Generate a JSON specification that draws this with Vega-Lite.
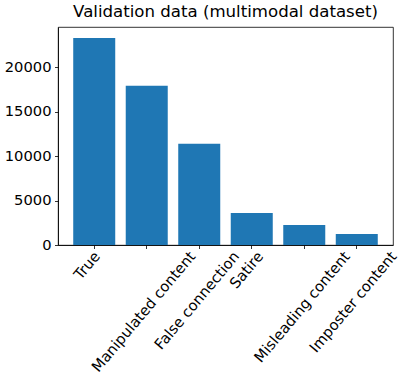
{
  "$schema": "https://vega.github.io/schema/vega-lite/v6.json",
  "autosize": {"type": "none"},
  "padding": {"left": 58, "top": 27, "right": 15, "bottom": 134},
  "width": 335,
  "height": 218,
  "background": "white",
  "title": {
    "text": "Validation data (multimodal dataset)",
    "font": "DejaVu Sans",
    "fontSize": 16.6,
    "fontWeight": "normal",
    "color": "black",
    "anchor": "middle",
    "offset": 6
  },
  "config": {
    "view": {"stroke": "black", "strokeWidth": 0.8},
    "axis": {
      "labelFont": "DejaVu Sans",
      "labelFontSize": 14.7,
      "labelColor": "black",
      "tickColor": "black",
      "tickSize": 3.5,
      "tickWidth": 0.8,
      "domainColor": "black",
      "domainWidth": 0.8,
      "grid": false,
      "title": null
    }
  },
  "data": {
    "values": [
      {"category": "True", "count": 23317},
      {"category": "Manipulated content", "count": 17936},
      {"category": "False connection", "count": 11393},
      {"category": "Satire", "count": 3610},
      {"category": "Misleading content", "count": 2256},
      {"category": "Imposter content", "count": 1241}
    ]
  },
  "mark": {"type": "bar", "color": "#1f77b4"},
  "encoding": {
    "x": {
      "field": "category",
      "type": "nominal",
      "sort": null,
      "scale": {"paddingInner": 0.2, "paddingOuter": 0.29},
      "axis": {
        "labelFont": "DejaVu Sans",
        "labelFontSize": 14.7,
        "labelAngle": -50,
        "labelAlign": "right",
        "labelBaseline": "top",
        "labelPadding": 0,
        "labelOverlap": false,
        "labelLimit": 0,
        "labelOffset": {"expr": "2.85 * length(datum.label) - 14"}
      }
    },
    "y": {
      "field": "count",
      "type": "quantitative",
      "scale": {"domain": [0, 24550], "nice": false},
      "axis": {
        "labelFont": "DejaVu Sans",
        "labelFontSize": 14.7,
        "values": [0, 5000, 10000, 15000, 20000],
        "labelPadding": 3.5,
        "format": "d"
      }
    }
  }
}
